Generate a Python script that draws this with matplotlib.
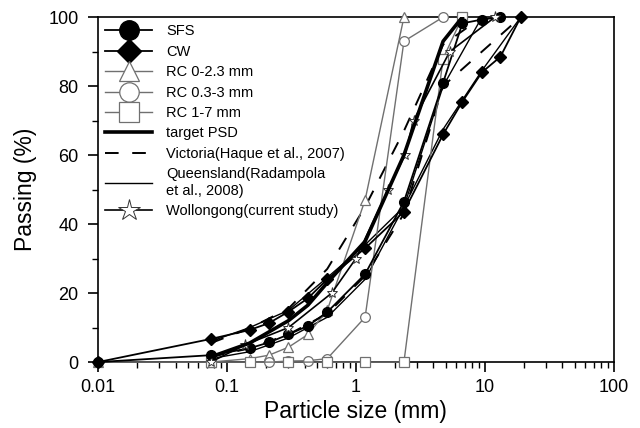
import matplotlib
matplotlib.use("Agg")
import matplotlib.pyplot as plt
from matplotlib.ticker import LogLocator, NullFormatter, MultipleLocator, FixedLocator, FixedFormatter

plt.rcParams['font.family'] = ['Liberation Sans', 'DejaVu Sans']

# ---- data ----
sfs_x = [0.01, 0.075, 0.15, 0.212, 0.3, 0.425, 0.6, 1.18, 2.36, 4.75, 6.7, 9.5, 13.2]
sfs_y = [0, 2, 4, 5.7, 8, 10.5, 14.5, 25.5, 46.5, 81, 98.2, 99.3, 100]

cw_x = [0.01, 0.075, 0.15, 0.212, 0.3, 0.425, 0.6, 1.18, 2.36, 4.75, 6.7, 9.5, 13.2, 19]
cw_y = [0, 6.7, 9.3, 11.3, 14.6, 18.5, 24, 33, 43.6, 66, 75.5, 84, 88.5, 100]

rc1_x = [0.01, 0.075, 0.15, 0.212, 0.3, 0.425, 0.6, 1.18, 2.36]
rc1_y = [0, 0, 1, 2, 4.3, 8, 15, 47, 100]

rc2_x = [0.15, 0.212, 0.3, 0.425, 0.6, 1.18, 2.36, 4.75]
rc2_y = [0, 0, 0.3, 0.4, 1, 13, 93, 100]

rc3_x = [0.075, 0.15, 0.3, 0.6, 1.18, 2.36, 4.75, 6.7]
rc3_y = [0, 0, 0, 0, 0, 0, 88, 100]

target_x = [0.075, 0.15, 0.3, 0.425, 0.6, 1.18, 2.36, 4.75, 6.7]
target_y = [1.5, 5.5, 12, 16.5, 23, 35, 60, 93, 100]

vic_up_x = [0.075, 0.15, 0.3, 0.6, 1.18, 2.36, 4.75, 9.5]
vic_up_y = [5.5, 9.8, 15.5, 27, 45, 67, 92, 100]
vic_lo_x = [0.075, 0.15, 0.3, 0.6, 1.18, 2.36, 4.75, 9.5, 19]
vic_lo_y = [1.5, 4, 8, 14, 25, 43, 80, 90, 100]

qld_up_x = [0.075, 0.15, 0.3, 0.6, 1.18, 2.36, 4.75, 9.5, 19]
qld_up_y = [6, 10, 15, 24.5, 34, 45, 67.5, 84.5, 100]
qld_lo_x = [0.075, 0.15, 0.3, 0.6, 1.18, 2.36, 4.75, 9.5]
qld_lo_y = [1, 3, 7, 13, 24, 45, 80, 100]

wol_x = [0.075, 0.138, 0.3, 0.65, 1.0, 1.78, 2.4, 2.8, 5.35, 12]
wol_y = [0, 5, 10, 20, 30, 50, 60, 70, 90, 100]

x_ticks = [0.01, 0.1, 1, 10, 100]
x_ticklabels = ['0.01', '0.1', '1', '10', '100']
y_ticks = [0, 20, 40, 60, 80, 100]

# ---- figure ----
fig = plt.figure(figsize=(6.4, 4.28), dpi=100)
ax = fig.add_axes([0.153, 0.154, 0.806, 0.806])

grey = '#707070'
ms = 7
h = {}
h['sfs'], = ax.plot(sfs_x, sfs_y, '-', color='black', lw=1.3, marker='o', ms=ms, mfc='black', mec='black', clip_on=False, zorder=5)
h['cw'], = ax.plot(cw_x, cw_y, '-', color='black', lw=1.3, marker='D', ms=ms - 1, mfc='black', mec='black', clip_on=False, zorder=5)
h['rc1'], = ax.plot(rc1_x, rc1_y, '-', color=grey, lw=1.0, marker='^', ms=ms, mfc='white', mec=grey, mew=0.9, clip_on=False, zorder=4)
h['rc2'], = ax.plot(rc2_x, rc2_y, '-', color=grey, lw=1.0, marker='o', ms=ms, mfc='white', mec=grey, mew=0.9, clip_on=False, zorder=4)
h['rc3'], = ax.plot(rc3_x, rc3_y, '-', color=grey, lw=1.0, marker='s', ms=ms, mfc='white', mec=grey, mew=0.9, clip_on=False, zorder=4)
h['target'], = ax.plot(target_x, target_y, '-', color='black', lw=2.6, zorder=6)
h['vic'], = ax.plot(vic_up_x, vic_up_y, color='black', lw=1.4, dashes=(7, 7), zorder=3)
ax.plot(vic_lo_x, vic_lo_y, color='black', lw=1.4, dashes=(7, 7), zorder=3)
h['qld'], = ax.plot(qld_up_x, qld_up_y, '-', color='black', lw=1.0, zorder=3)
ax.plot(qld_lo_x, qld_lo_y, '-', color='black', lw=1.0, zorder=3)
h['wol'], = ax.plot(wol_x, wol_y, '-', color='black', lw=1.2, marker='*', ms=ms + 1, mfc='white', mec='#333333', mew=0.7, clip_on=False, zorder=5)

ax.set_xscale('log')
ax.set_xlim(0.01, 100)
ax.set_ylim(0, 100)
ax.xaxis.set_major_locator(FixedLocator(x_ticks))
ax.xaxis.set_major_formatter(FixedFormatter(x_ticklabels))
ax.xaxis.set_minor_locator(LogLocator(base=10, subs=range(2, 10)))
ax.xaxis.set_minor_formatter(NullFormatter())
ax.yaxis.set_major_locator(FixedLocator(y_ticks))
ax.yaxis.set_minor_locator(MultipleLocator(10))

ax.tick_params(which='major', direction='out', length=7, width=1.2, labelsize=13)
ax.tick_params(axis='y', which='major', pad=7)
ax.tick_params(axis='x', which='major', pad=5)
ax.tick_params(which='minor', direction='out', length=4, width=1.0)
for s in ax.spines.values():
    s.set_linewidth(1.2)

ax.set_xlabel('Particle size (mm)', fontsize=16.5, labelpad=3)
ax.set_ylabel('Passing (%)', fontsize=16.5, labelpad=8)

labels = ['SFS', 'CW', 'RC 0-2.3 mm', 'RC 0.3-3 mm', 'RC 1-7 mm', 'target PSD',
          'Victoria(Haque et al., 2007)', 'Queensland(Radampola\net al., 2008)',
          'Wollongong(current study)']
handles = [h['sfs'], h['cw'], h['rc1'], h['rc2'], h['rc3'], h['target'], h['vic'], h['qld'], h['wol']]
leg = ax.legend(handles, labels, loc='upper left', bbox_to_anchor=(0.0, 1.0), frameon=False,
                fontsize=10.5, markerscale=2.0, handlelength=3.2, handletextpad=1.0,
                labelspacing=0.44, borderaxespad=0.3, borderpad=0.2)

fig.savefig('out.png', dpi=100)
